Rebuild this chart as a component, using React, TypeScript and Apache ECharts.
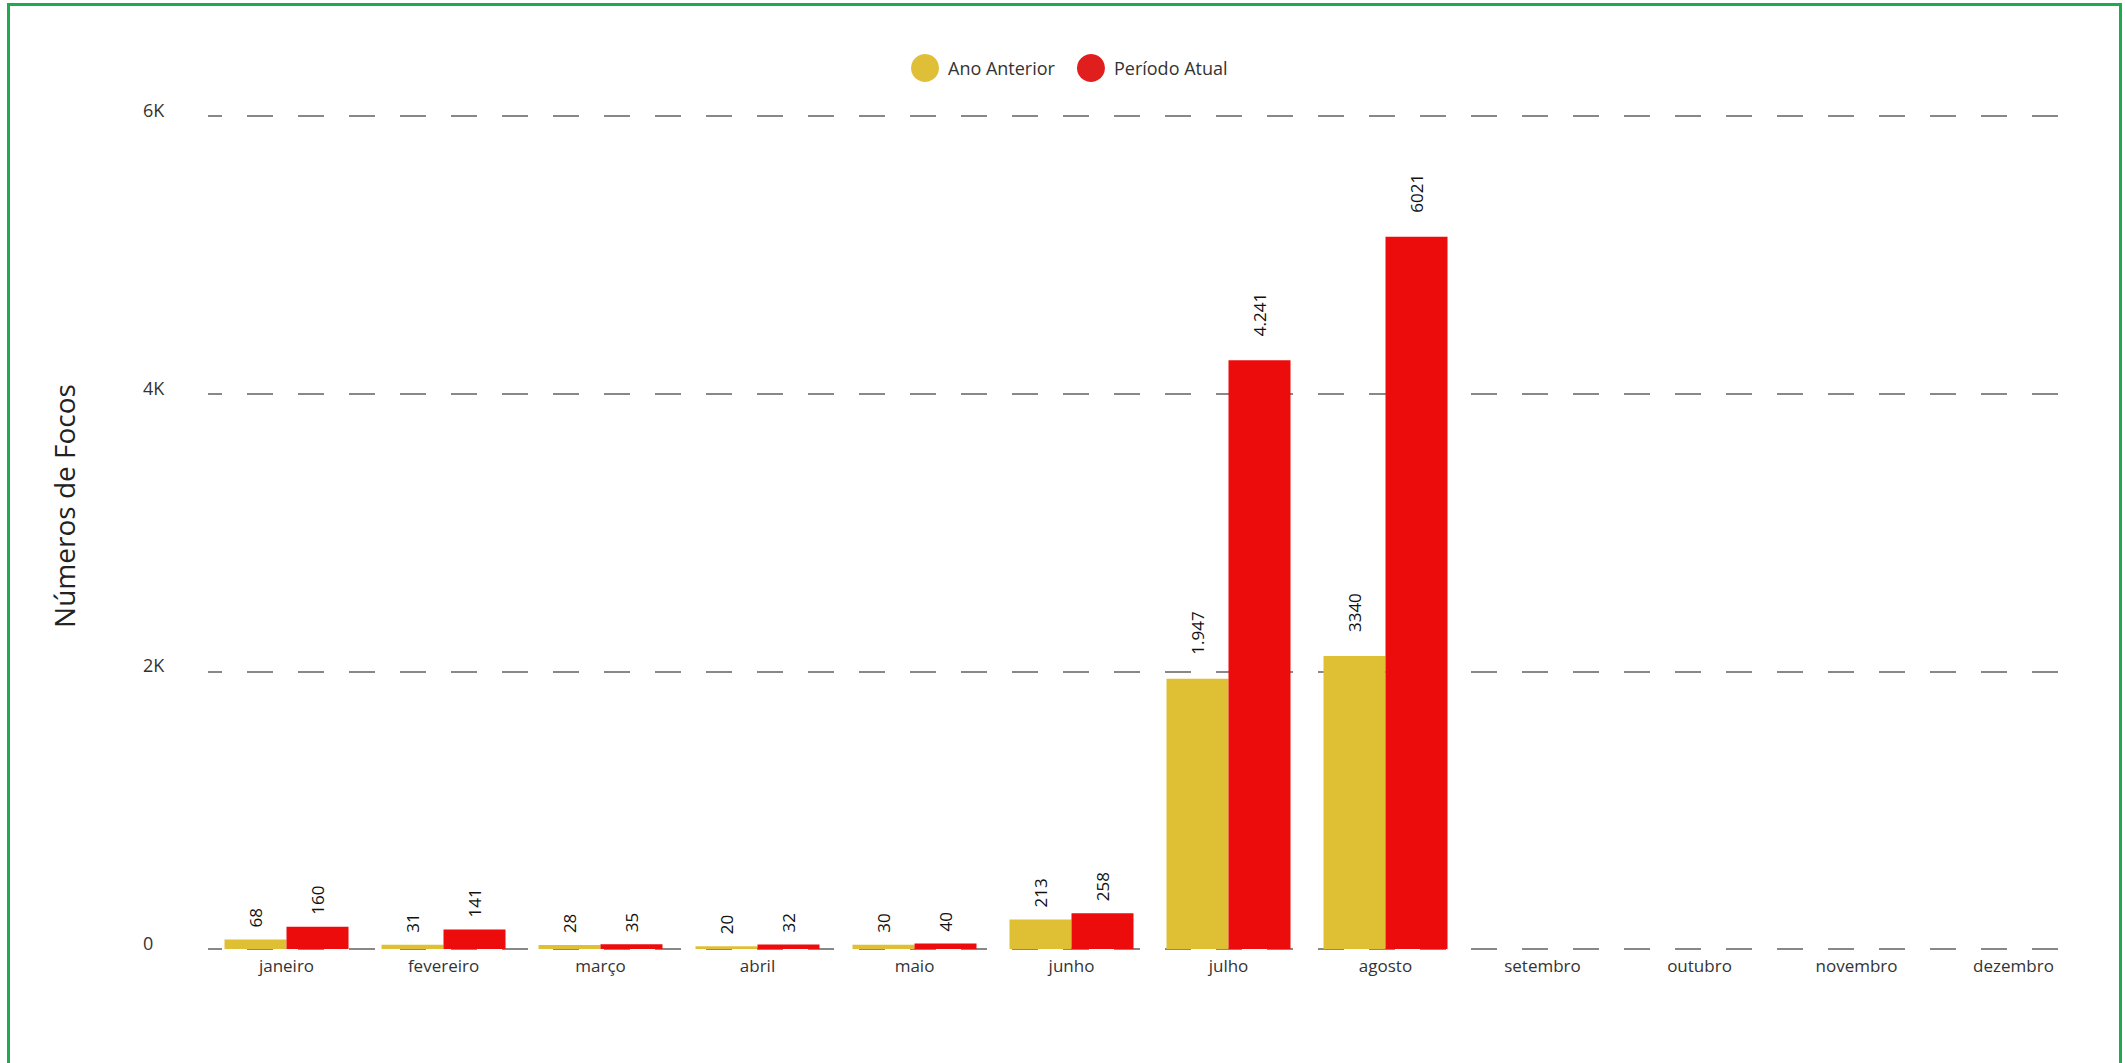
import React, { useEffect, useRef } from "react";
import * as echarts from "echarts";

const months = [
  "janeiro", "fevereiro", "março", "abril", "maio", "junho",
  "julho", "agosto", "setembro", "outubro", "novembro", "dezembro",
];
const seriesNames = ["Ano Anterior", "Período Atual"];
// bar heights
const previousValues = [68, 31, 28, 20, 30, 213, 1947, 2110, null, null, null, null];
const currentValues = [160, 141, 35, 32, 40, 258, 4241, 5130, null, null, null, null];
// label texts as printed above the bars
const previousLabels = ["68", "31", "28", "20", "30", "213", "1.947", "3340", "", "", "", ""];
const currentLabels = ["160", "141", "35", "32", "40", "258", "4.241", "6021", "", "", "", ""];
const yTicks = [0, 2000, 4000, 6000];
const yTickLabels = ["0", "2K", "4K", "6K"];
const yAxisTitle = "Números de Focos";

const FONT = "'Open Sans', 'Noto Sans', sans-serif";
const YELLOW = "#dfc035";
const RED = "#ec0c0c";

export default function App() {
  const ref = useRef<HTMLDivElement>(null);

  useEffect(() => {
    if (!ref.current) return;
    const chart = echarts.init(ref.current, undefined, { renderer: "svg" });
    const yMin = yTicks[0];
    const yMax = yTicks[yTicks.length - 1];
    const yStep = yTicks[1] - yTicks[0];

    const barData = (values: (number | null)[]) =>
      values.map((v) =>
        v == null
          ? null
          : { value: v, label: { distance: v >= 1000 ? 24 : 12 } }
      );
    const dataLabel = (texts: string[]) => ({
      show: true,
      position: "top",
      rotate: 90,
      align: "left",
      verticalAlign: "middle",
      fontFamily: FONT,
      fontSize: 17,
      color: "#111",
      formatter: (p: any) => texts[p.dataIndex] ?? "",
    });

    chart.setOption({
      animation: false,
      backgroundColor: "#ffffff",
      graphic: [
        {
          type: "rect",
          shape: { x: 8.5, y: 4.5, width: 2112, height: 1100 },
          style: { fill: "none", stroke: "#1faa50", lineWidth: 3 },
          silent: true,
          z: 100,
        },
      ],
      legend: {
        left: 906,
        top: 49,
        icon: "circle",
        itemWidth: 28,
        itemHeight: 28,
        itemGap: 22,
        textStyle: {
          fontFamily: FONT,
          fontSize: 18,
          color: "#333",
          padding: [0, 0, 0, 4],
        },
        data: [
          { name: seriesNames[0], itemStyle: { color: "#dfbe38" } },
          { name: seriesNames[1], itemStyle: { color: "#e01e1e" } },
        ],
      },
      grid: [
        // value grid: dashed split lines and tick labels
        { left: 208, right: 66, top: 116, bottom: 114, containLabel: false },
        // category grid: months and bars
        { left: 208, right: 33, top: 116, bottom: 114, containLabel: false },
      ],
      xAxis: [
        {
          gridIndex: 0,
          type: "category",
          data: months,
          show: false,
        },
        {
          gridIndex: 1,
          type: "category",
          data: months,
          axisLine: { show: false },
          axisTick: { show: false },
          splitLine: { show: false },
          axisLabel: {
            margin: 8,
            fontFamily: FONT,
            fontSize: 17,
            color: "#333",
            interval: 0,
          },
        },
      ],
      yAxis: [
        {
          gridIndex: 0,
          type: "value",
          min: yMin,
          max: yMax,
          interval: yStep,
          name: yAxisTitle,
          nameLocation: "middle",
          nameRotate: 90,
          nameGap: 130,
          nameTextStyle: {
            fontFamily: FONT,
            fontSize: 28,
            color: "#222",
            padding: [0, 0, 0, 53],
          },
          axisLine: { show: false },
          axisTick: { show: false },
          axisLabel: {
            align: "left",
            verticalAlign: "bottom",
            lineHeight: 12,
            margin: 65,
            fontFamily: FONT,
            fontSize: 18,
            color: "#333",
            formatter: (v: number) => {
              const i = yTicks.indexOf(v);
              return i >= 0 ? yTickLabels[i] : "";
            },
          },
          splitLine: {
            show: true,
            lineStyle: { color: "#888888", width: 2, type: [26, 25], dashOffset: 12 },
          },
        },
        {
          gridIndex: 1,
          type: "value",
          min: yMin,
          max: yMax,
          interval: yStep,
          show: false,
          splitLine: { show: false },
        },
      ],
      series: [
        {
          name: seriesNames[0],
          type: "bar",
          xAxisIndex: 1,
          yAxisIndex: 1,
          data: barData(previousValues),
          barWidth: 62,
          barGap: "0%",
          itemStyle: { color: YELLOW },
          label: dataLabel(previousLabels),
        },
        {
          name: seriesNames[1],
          type: "bar",
          xAxisIndex: 1,
          yAxisIndex: 1,
          data: barData(currentValues),
          barWidth: 62,
          barGap: "0%",
          itemStyle: { color: RED },
          label: dataLabel(currentLabels),
        },
      ],
    });
    return () => chart.dispose();
  }, []);

  return (
    <div
      ref={ref}
      style={{ position: "fixed", left: 0, top: 0, width: 2125, height: 1063, background: "#fff" }}
    />
  );
}
